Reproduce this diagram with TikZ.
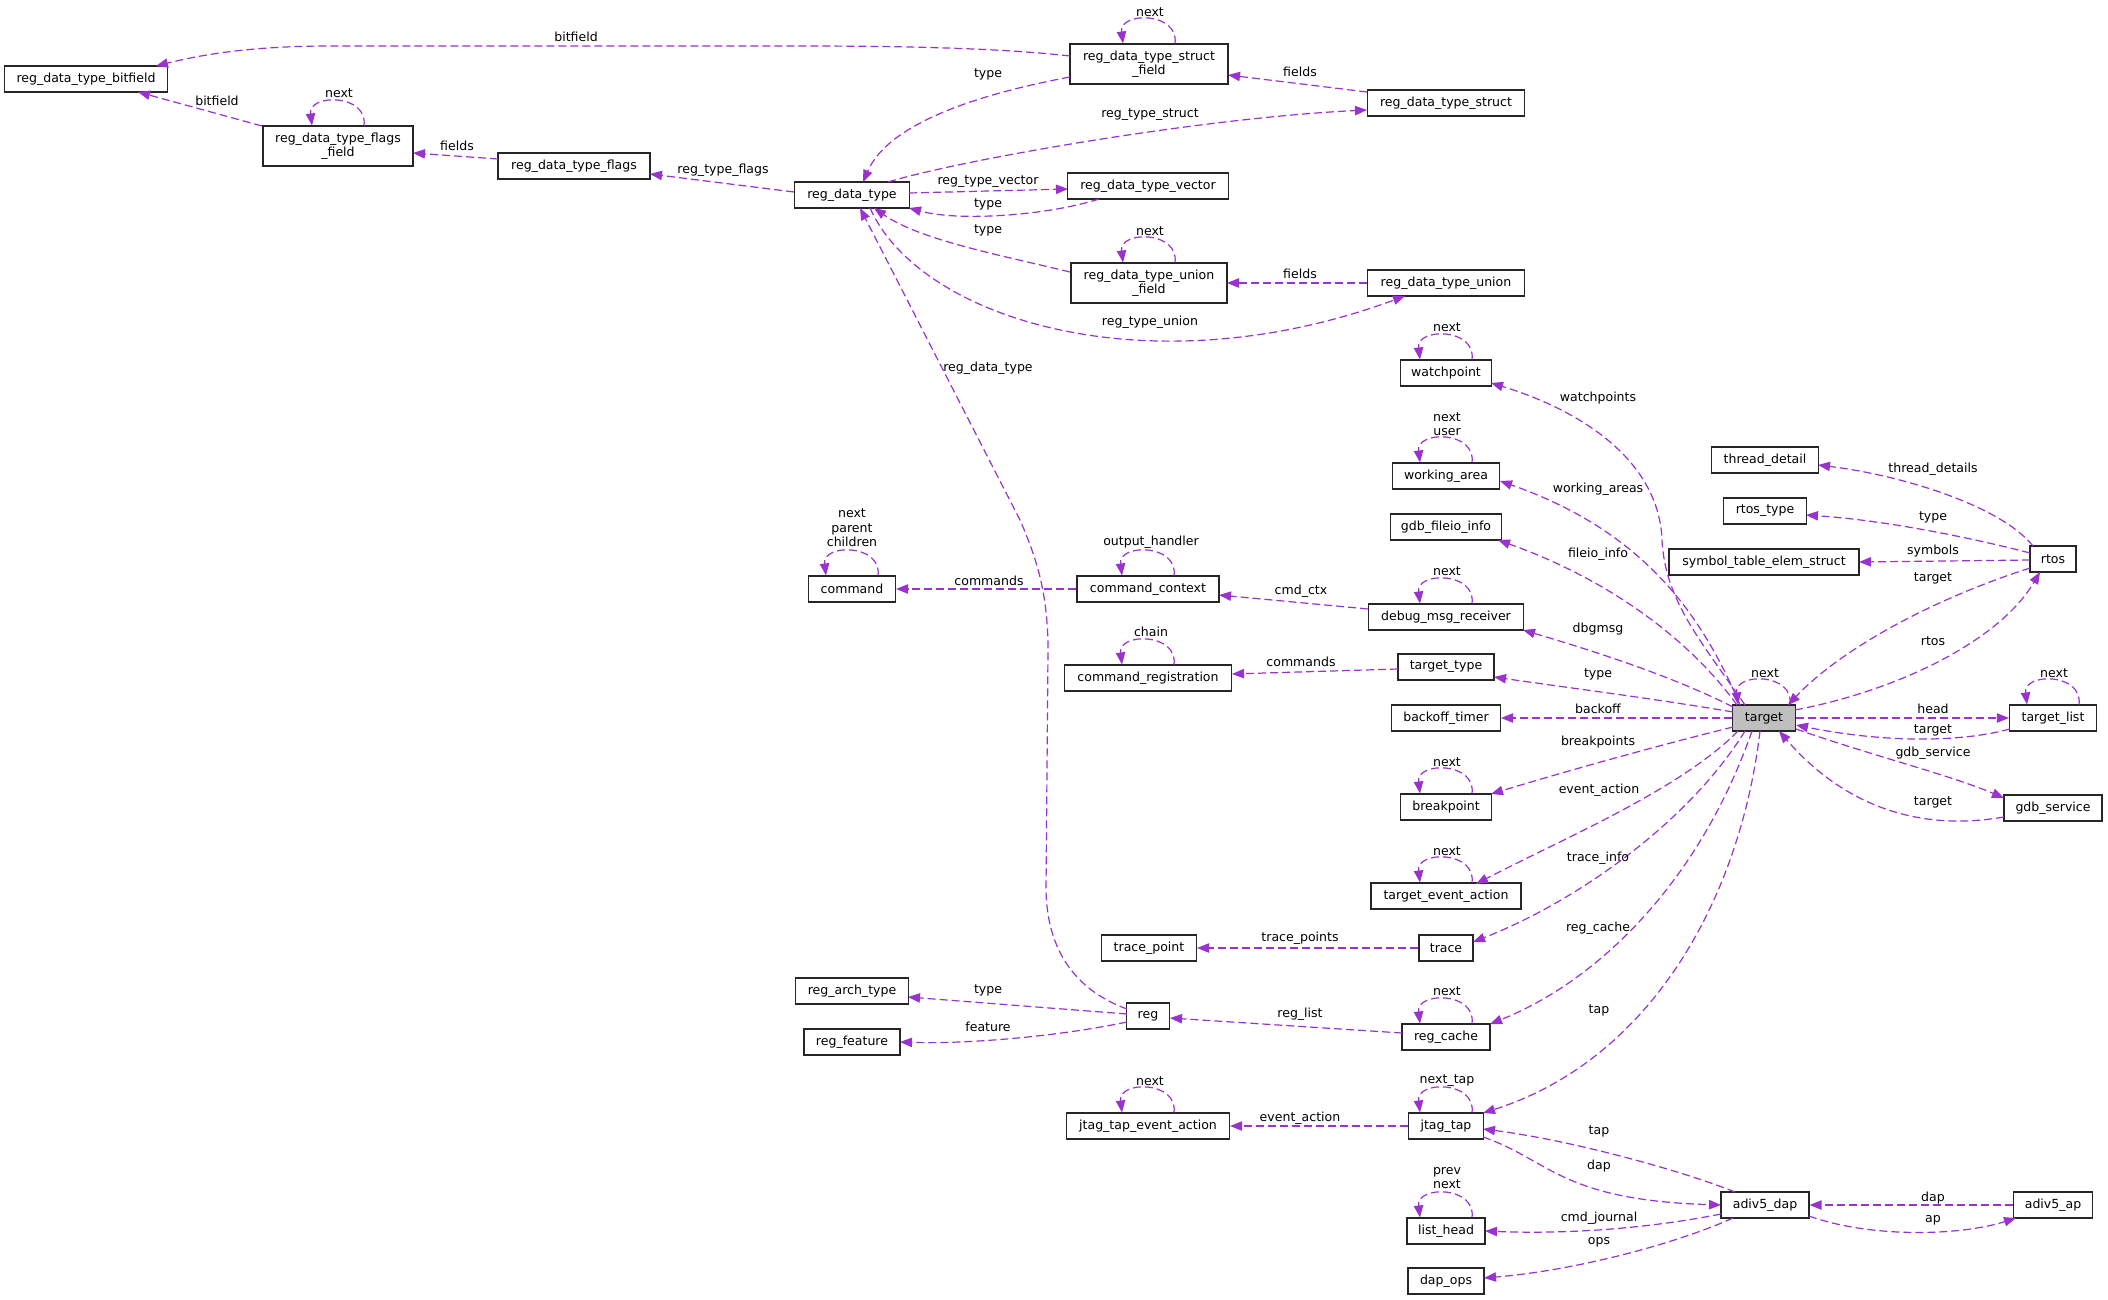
\documentclass[tikz,border=0pt]{standalone}
\usepackage{fontspec}
\setmainfont{DejaVu Sans}
\usetikzlibrary{arrows.meta,calc}
\definecolor{edgec}{HTML}{9A32CD}
\definecolor{tgtfill}{HTML}{BFBFBF}
\newcommand\fnt{\fontsize{9.4pt}{10.9pt}\selectfont}
\newcommand\dloop[1]{\draw[lnk] ($(#1.north)+(26,0)$) .. controls +(4,-32) and +(-4,-32) .. ($(#1.north)+(-26,0)$);}
\begin{document}
\begin{tikzpicture}[x=0.75pt,y=-0.75pt,
  box/.style={draw=black!85,line width=0.8pt,fill=white,inner sep=0pt,minimum height=19.5pt,align=center,font=\fnt},
  tall/.style={minimum height=30pt},
  w/.style={minimum width=#1*0.75pt},
  lnk/.style={draw=edgec,line width=0.9pt,dash pattern=on 6pt off 3pt,-{Triangle[length=9pt,width=7pt]}},
  lbl/.style={font=\fnt,inner sep=0pt,align=center},
]
\fill[white] (0,0) rectangle (2108,1299);
\useasboundingbox (0,0) rectangle (2108,1299);

% nodes
\node[box,w=163] (bf) at (86,79) {reg\_data\_type\_bitfield};
\node[box,tall,w=150] (ff) at (338,146) {reg\_data\_type\_flags\\\_field};
\node[box,w=152] (flags) at (574,166) {reg\_data\_type\_flags};
\node[box,w=115] (rdt) at (852,195) {reg\_data\_type};
\node[box,tall,w=158] (sf) at (1149,64) {reg\_data\_type\_struct\\\_field};
\node[box,w=157] (struct) at (1446,103) {reg\_data\_type\_struct};
\node[box,w=161] (vec) at (1148,186) {reg\_data\_type\_vector};
\node[box,tall,w=156] (uf) at (1149,283) {reg\_data\_type\_union\\\_field};
\node[box,w=157] (union) at (1446,283) {reg\_data\_type\_union};
\node[box,w=91] (wp) at (1446,373) {watchpoint};
\node[box,w=107] (wa) at (1446,476) {working\_area};
\node[box,w=111] (gfi) at (1446,527) {gdb\_fileio\_info};
\node[box,w=155] (dmr) at (1446,617) {debug\_msg\_receiver};
\node[box,w=96] (tt) at (1446,667) {target\_type};
\node[box,w=109] (bt) at (1446,718) {backoff\_timer};
\node[box,w=91] (bp) at (1446,807) {breakpoint};
\node[box,w=150] (tea) at (1446,896) {target\_event\_action};
\node[box,w=54] (trace) at (1446,948) {trace};
\node[box,w=88] (rc) at (1446,1037) {reg\_cache};
\node[box,w=75] (jt) at (1446,1126) {jtag\_tap};
\node[box,w=78] (lh) at (1446,1231) {list\_head};
\node[box,w=76] (dops) at (1446,1281) {dap\_ops};
\node[box,w=88] (ad) at (1765,1205) {adiv5\_dap};
\node[box,w=79] (ap) at (2053,1205) {adiv5\_ap};
\node[box,w=98] (gs) at (2053,808) {gdb\_service};
\node[box,w=95] (tp) at (1149,948) {trace\_point};
\node[box,w=113] (rat) at (852,991) {reg\_arch\_type};
\node[box,w=43] (reg) at (1148,1016) {reg};
\node[box,w=96] (rf) at (852,1042) {reg\_feature};
\node[box,w=163] (jtea) at (1148,1126) {jtag\_tap\_event\_action};
\node[box,w=87] (cmd) at (852,589) {command};
\node[box,w=142] (cc) at (1148,589) {command\_context};
\node[box,w=167] (cr) at (1148,678) {command\_registration};
\node[box,w=107] (td) at (1765,460) {thread\_detail};
\node[box,w=83] (rt) at (1765,511) {rtos\_type};
\node[box,w=190] (st) at (1764,562) {symbol\_table\_elem\_struct};
\node[box,w=46] (rtos) at (2053,559) {rtos};
\node[box,w=63,fill=tgtfill] (target) at (1764,718) {target};
\node[box,w=87] (tl) at (2053,718) {target\_list};

% reg_data_type cluster
\draw[lnk] ($(sf)+(-79,-8)$) .. controls (1000,48) and (900,46) .. (800,46) -- (330,46) .. controls (250,46) and (200,55) .. ($(bf)+(70,-13)$);
\draw[lnk] ($(ff)+(-76,-20)$) -- ($(bf)+(52,13)$);
\draw[lnk] ($(flags)+(-76,-7)$) -- ($(ff)+(75,7)$);
\draw[lnk] ($(rdt)+(-58,-3)$) -- ($(flags)+(76,8)$);
\draw[lnk] ($(sf)+(-79,13)$) .. controls (990,92) and (890,120) .. ($(rdt)+(11,-13)$);
\draw[lnk] ($(rdt)+(36,-13)$) .. controls (960,160) and (1200,118) .. ($(struct)+(-79,7)$);
\draw[lnk] ($(rdt)+(57,-2)$) -- ($(vec)+(-80,3)$);
\draw[lnk] ($(vec)+(-49,13)$) .. controls (1050,215) and (960,222) .. ($(rdt)+(57,13)$);
\draw[lnk] ($(uf)+(-79,-11)$) .. controls (1000,255) and (920,240) .. ($(rdt)+(22,13)$);
\draw[lnk] ($(rdt)+(18,13)$) .. controls (920,320) and (1150,390) .. ($(union)+(-41,13)$);
\draw[lnk] ($(union)+(-79,0)$) -- ($(uf)+(78,0)$);
\draw[lnk] ($(struct)+(-79,-11)$) -- ($(sf)+(79,11)$);
\draw[lnk] ($(reg)+(-21,-7)$) .. controls (1075,990) and (1047,950) .. (1046,890) -- (1048,650) .. controls (1048,590) and (1035,555) .. (1020,520) -- ($(rdt)+(8,13)$);
\draw[lnk] ($(reg)+(-21,-2)$) -- ($(rat)+(56,6)$);
\draw[lnk] ($(reg)+(-21,6)$) .. controls (1050,1038) and (960,1044) .. ($(rf)+(48,0)$);
\draw[lnk] ($(rc)+(-44,-4)$) -- ($(reg)+(22,2)$);
\draw[lnk] (trace.west) -- (tp.east);
\draw[lnk] (cc.west) -- (cmd.east);
\draw[lnk] ($(dmr)+(-78,-8)$) -- ($(cc)+(71,6)$);
\draw[lnk] ($(tt)+(-48,2)$) -- ($(cr)+(84,-4)$);
\draw[lnk] (jt.west) -- (jtea.east);

% target edges
\draw[lnk] ($(target)+(-19,-13)$) .. controls (1700,640) and (1665,600) .. (1662,540) .. controls (1659,460) and (1580,410) .. ($(wp)+(45,10)$);
\draw[lnk] ($(target)+(-24,-13)$) .. controls (1700,610) and (1640,530) .. ($(wa)+(54,5)$);
\draw[lnk] ($(target)+(-27,-13)$) .. controls (1690,640) and (1610,580) .. ($(gfi)+(52,13)$);
\draw[lnk] ($(target)+(-31,-11)$) .. controls (1670,675) and (1590,650) .. ($(dmr)+(77,13)$);
\draw[lnk] ($(target)+(-31,-6)$) .. controls (1650,698) and (1570,688) .. ($(tt)+(48,10)$);
\draw[lnk] (target.west) -- (bt.east);
\draw[lnk] ($(target)+(31,-8)$) .. controls (1900,690) and (2000,640) .. ($(rtos)+(-13,13)$);
\draw[lnk] ($(rtos)+(-23,9)$) .. controls (1930,600) and (1840,650) .. ($(target)+(24,-13)$);
\draw[lnk] ($(rtos)+(-20,-13)$) .. controls (2000,505) and (1900,475) .. ($(td)+(53,5)$);
\draw[lnk] ($(rtos)+(-23,-6)$) .. controls (1960,535) and (1880,520) .. ($(rt)+(41,4)$);
\draw[lnk] ($(rtos)+(-23,1)$) -- ($(st)+(95,0)$);
\draw[lnk] (target.east) -- (tl.west);
\draw[lnk] ($(tl)+(-43,11)$) .. controls (1950,745) and (1870,740) .. ($(target)+(32,7)$);
\draw[lnk] ($(target)+(32,11)$) .. controls (1870,755) and (1950,775) .. ($(gs)+(-49,-10)$);
\draw[lnk] ($(gs)+(-49,9)$) .. controls (1900,835) and (1830,790) .. ($(target)+(15,13)$);
\draw[lnk] ($(target)+(-31,9)$) .. controls (1660,745) and (1570,770) .. ($(bp)+(45,-13)$);
\draw[lnk] ($(target)+(-26,13)$) .. controls (1680,790) and (1560,840) .. ($(tea)+(30,-12)$);
\draw[lnk] ($(target)+(-19,13)$) .. controls (1690,820) and (1580,900) .. ($(trace)+(27,-6)$);
\draw[lnk] ($(target)+(-12,13)$) .. controls (1700,880) and (1600,980) .. ($(rc)+(44,-13)$);
\draw[lnk] ($(target)+(-4,13)$) .. controls (1740,900) and (1650,1060) .. ($(jt)+(37,-13)$);
\draw[lnk] ($(ad)+(-30,-13)$) .. controls (1680,1170) and (1570,1140) .. ($(jt)+(37,3)$);
\draw[lnk] ($(jt)+(37,11)$) .. controls (1550,1160) and (1560,1200) .. ($(ad)+(-44,0)$);
\draw[lnk] ($(ad)+(-44,9)$) .. controls (1640,1230) and (1560,1234) .. ($(lh)+(39,0)$);
\draw[lnk] ($(ad)+(-32,13)$) .. controls (1680,1242) and (1580,1270) .. ($(dops)+(38,-3)$);
\draw[lnk] (ap.west) -- (ad.east);
\draw[lnk] ($(ad)+(44,11)$) .. controls (1870,1238) and (1960,1236) .. ($(ap)+(-37,13)$);

% self loops
\dloop{sf}\dloop{ff}\dloop{uf}\dloop{wp}\dloop{wa}\dloop{dmr}\dloop{target}\dloop{tl}
\dloop{bp}\dloop{tea}\dloop{rc}\dloop{jt}\dloop{lh}\dloop{cmd}\dloop{cc}\dloop{cr}\dloop{jtea}

% labels
\node[lbl] (L1) at (576,37) {bitfield};
\node[lbl] (L2) at (217,101) {bitfield};
\node[lbl] (L3) at (339,93) {next};
\node[lbl] (L4) at (457,146) {fields};
\node[lbl] (L5) at (723,170) {reg\_type\_flags};
\node[lbl] (L6) at (1150,12) {next};
\node[lbl] (L7) at (988,74) {type};
\node[lbl] (L8) at (1300,72) {fields};
\node[lbl] (L9) at (1150,115) {reg\_type\_struct};
\node[lbl] (L10) at (988,182) {reg\_type\_vector};
\node[lbl] (L11) at (988,204) {type};
\node[lbl] (L12) at (988,230) {type};
\node[lbl] (L13) at (1150,231) {next};
\node[lbl] (L14) at (1300,274) {fields};
\node[lbl] (L15) at (1150,322) {reg\_type\_union};
\node[lbl] (L16) at (988,368) {reg\_data\_type};
\node[lbl] (L17) at (1447,327) {next};
\node[lbl] (L18) at (1447,424) {next\\user};
\node[lbl] (L19) at (1598,398) {watchpoints};
\node[lbl] (L20) at (1598,489) {working\_areas};
\node[lbl] (L21) at (1598,554) {fileio\_info};
\node[lbl] (L22) at (1447,571) {next};
\node[lbl] (L23) at (1598,629) {dbgmsg};
\node[lbl] (L24) at (1598,674) {type};
\node[lbl] (L25) at (1598,709) {backoff};
\node[lbl] (L26) at (1765,673) {next};
\node[lbl] (L27) at (1933,469) {thread\_details};
\node[lbl] (L28) at (1933,517) {type};
\node[lbl] (L29) at (1933,551) {symbols};
\node[lbl] (L30) at (1933,578) {target};
\node[lbl] (L31) at (1933,641) {rtos};
\node[lbl] (L32) at (2054,673) {next};
\node[lbl] (L33) at (1933,709) {head};
\node[lbl] (L34) at (1933,730) {target};
\node[lbl] (L35) at (1933,753) {gdb\_service};
\node[lbl] (L36) at (1933,802) {target};
\node[lbl] (L37) at (1598,742) {breakpoints};
\node[lbl] (L38) at (1447,762) {next};
\node[lbl] (L39) at (1599,790) {event\_action};
\node[lbl] (L40) at (1447,851) {next};
\node[lbl] (L41) at (1598,858) {trace\_info};
\node[lbl] (L42) at (1598,928) {reg\_cache};
\node[lbl] (L43) at (1447,991) {next};
\node[lbl] (L44) at (1599,1010) {tap};
\node[lbl] (L45) at (1447,1081) {next\_tap};
\node[lbl] (L46) at (1599,1131) {tap};
\node[lbl] (L47) at (1599,1166) {dap};
\node[lbl] (L48) at (1447,1178) {prev\\next};
\node[lbl] (L49) at (1599,1218) {cmd\_journal};
\node[lbl] (L50) at (1599,1242) {ops};
\node[lbl] (L51) at (1933,1198) {dap};
\node[lbl] (L52) at (1933,1220) {ap};
\node[lbl] (L53) at (852,528) {next\\parent\\children};
\node[lbl] (L54) at (989,581) {commands};
\node[lbl] (L55) at (1151,542) {output\_handler};
\node[lbl] (L56) at (1301,591) {cmd\_ctx};
\node[lbl] (L57) at (1151,632) {chain};
\node[lbl] (L58) at (1301,662) {commands};
\node[lbl] (L59) at (1300,938) {trace\_points};
\node[lbl] (L60) at (988,990) {type};
\node[lbl] (L61) at (988,1027) {feature};
\node[lbl] (L62) at (1300,1014) {reg\_list};
\node[lbl] (L63) at (1150,1081) {next};
\node[lbl] (L64) at (1300,1118) {event\_action};
\end{tikzpicture}
\end{document}
